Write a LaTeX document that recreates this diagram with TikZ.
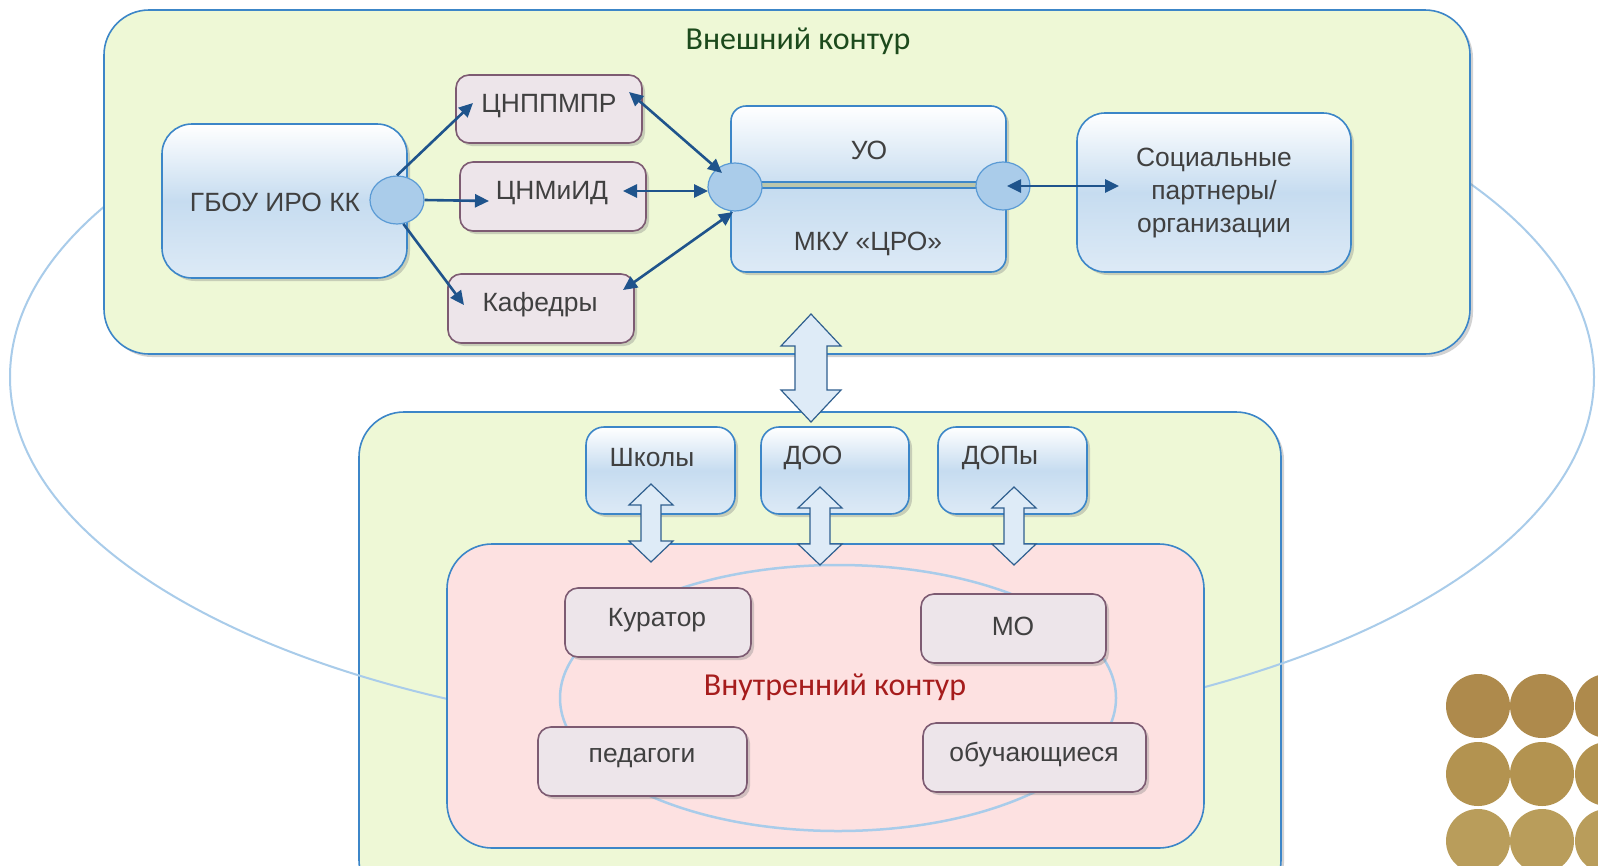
\documentclass[tikz,border=0pt]{standalone}
\usepackage{fontspec}
\setmainfont{Liberation Sans}
\newfontfamily\calib{Carlito}
\usetikzlibrary{arrows.meta,shadows,calc,shapes.geometric}
\definecolor{boxblue}{HTML}{3C86C8}
\definecolor{bluemid}{HTML}{C6DCF0}
\definecolor{bluebot}{HTML}{DDEAF6}
\definecolor{greenfill}{HTML}{EEF8D6}
\definecolor{pinkfill}{HTML}{FDE1E1}
\definecolor{grayfill}{HTML}{EDE5EA}
\definecolor{grayborder}{HTML}{7D5B72}
\definecolor{arrowblue}{HTML}{1F548C}
\definecolor{ellblue}{HTML}{A9CCEA}
\definecolor{ovalfill}{HTML}{AACCEA}
\definecolor{ovalborder}{HTML}{5B9BD5}
\definecolor{textgray}{HTML}{404040}
\definecolor{titlegreen}{HTML}{1C4A1C}
\definecolor{titlered}{HTML}{A61C1C}
\definecolor{bandfill}{HTML}{BAC6AC}
\definecolor{blockfill}{HTML}{DEEBF7}
\definecolor{blockborder}{HTML}{2F5F8F}
\definecolor{goldA}{HTML}{AE8A4C}
\definecolor{goldB}{HTML}{B39350}
\definecolor{goldC}{HTML}{B99D5B}
\newcommand{\myDblArrow}[6]{%
  \draw[blockstyle] (#1,#2) -- ({#1+#4},{#2+#5}) -- ({#1+#6},{#2+#5}) -- ({#1+#6},{#3-#5}) -- ({#1+#4},{#3-#5}) -- (#1,#3) -- ({#1-#4},{#3-#5}) -- ({#1-#6},{#3-#5}) -- ({#1-#6},{#2+#5}) -- ({#1-#4},{#2+#5}) -- cycle;}
\begin{document}
\begin{tikzpicture}[x=1pt,y=-1pt,
  shad/.style={drop shadow={opacity=0.35,shadow xshift=3pt,shadow yshift=-3pt}},
  contour/.style={draw=boxblue,line width=1.6pt,fill=#1,rounded corners=45pt},
  bluebox/.style={draw=boxblue,line width=1.6pt,rounded corners=#1,top color=white,bottom color=bluebot,middle color=bluemid,shad},
  bluebox/.default=16pt,
  graybox/.style={draw=grayborder,line width=1.6pt,fill=grayfill,rounded corners=13pt,shad},
  txt/.style={text=textgray,font=\fontsize{26.4}{33}\selectfont,inner sep=0pt,align=center},
  oval/.style={ellipse,draw=ovalborder,line width=1.2pt,fill=ovalfill,minimum width=54pt,minimum height=48pt,inner sep=0pt},
  conn/.style={draw=arrowblue,line width=2.6pt,-{Triangle[length=14pt,width=13pt]}},
  bconn/.style={draw=arrowblue,line width=2.6pt,{Triangle[length=14pt,width=13pt]}-{Triangle[length=14pt,width=13pt]}},
  blockstyle/.style={draw=blockborder,line width=1.2pt,fill=blockfill,line join=miter}]
\useasboundingbox (0,0) rectangle (1598,865);
\clip (0,0) rectangle (1598,865);
\fill[white] (0,0) rectangle (1598,865);
% lower green contour (below the large ellipse)
\node[contour=greenfill,shad,minimum width=922pt,minimum height=493pt] (innergreen) at (820,658.5) {};
% large ellipse
\draw[ellblue,line width=2pt] (802,377) ellipse [x radius=792, y radius=360];
% upper contour and pink contour (above the large ellipse)
\node[contour=greenfill,shad,minimum width=1366pt,minimum height=344pt] (outer) at (787,182) {};
\node[contour=pinkfill,minimum width=757pt,minimum height=304pt] (pink) at (825.5,696) {};
\draw[ellblue,line width=2.5pt] (838,698) ellipse [x radius=278, y radius=133];
% titles
\node[text=titlegreen,font=\calib\fontsize{32}{36}\selectfont,inner sep=0pt] (t1) at (798,41) {Внешний контур};
\node[text=titlered,font=\calib\fontsize{32}{36}\selectfont,inner sep=0pt] (t2) at (835,687) {Внутренний контур};
% blue boxes
\node[bluebox=30pt,minimum width=245pt,minimum height=154pt] (gbou) at (284.5,201) {};
\node[txt] (gbout) at (275,202) {ГБОУ ИРО КК};
\node[bluebox=15pt,minimum width=275pt,minimum height=166pt] (uo) at (868.5,189) {};
\node[txt] (uot) at (869,150) {УО};
\node[txt] (mkut) at (868,244) {МКУ «ЦРО»};
\node[bluebox=28pt,minimum width=274pt,minimum height=159pt] (soc) at (1214,192.5) {};
\node[txt] (soct) at (1214,193) {Социальные\\партнеры/\\организации};
\node[bluebox=18pt,minimum width=149pt,minimum height=87pt] (shk) at (660.5,470.5) {};
\node[txt] (shkt) at (652,458) {Школы};
\node[bluebox=18pt,minimum width=148pt,minimum height=87pt] (doo) at (835,470.5) {};
\node[txt] (doot) at (813,458) {ДОО};
\node[bluebox=18pt,minimum width=149pt,minimum height=87pt] (dop) at (1012.5,470.5) {};
\node[txt] (dopt) at (1000,458) {ДОПы};
% gray boxes
\node[graybox,minimum width=186pt,minimum height=68pt] (cnp) at (549,109) {};
\node[txt] at (549,106) {ЦНППМПР};
\node[graybox,minimum width=186pt,minimum height=69pt] (cnm) at (553,196.5) {};
\node[txt] at (552,193) {ЦНМиИД};
\node[graybox,minimum width=186pt,minimum height=69pt] (kaf) at (541,308.5) {};
\node[txt] at (540,305) {Кафедры};
\node[graybox,minimum width=186pt,minimum height=69pt] (kur) at (658,622.5) {};
\node[txt] at (657,620) {Куратор};
\node[graybox,minimum width=185pt,minimum height=69pt] (mo) at (1013.5,628.5) {};
\node[txt] at (1013,626) {МО};
\node[graybox,minimum width=209pt,minimum height=69pt] (ped) at (642.5,761.5) {};
\node[txt] at (642,758) {педагоги};
\node[graybox,minimum width=223pt,minimum height=69pt] (obu) at (1034.5,757.5) {};
\node[txt] at (1034,755) {обучающиеся};
% band between ovals
\draw[boxblue,line width=8pt] (735,185) -- (1003,185);
\draw[bandfill,line width=4.5pt] (735,185) -- (1003,185);
% ovals
\node[oval] (e1) at (397,200) {};
\node[oval] (e2) at (735,187) {};
\node[oval] (e3) at (1003,186) {};
% arrow end points
\coordinate (p1) at (473,103);
\coordinate (p2) at (489,201);
\coordinate (p3) at (464,305);
\coordinate (q1) at (629,92);
\coordinate (q1b) at (722,173);
\coordinate (q2) at (623,191);
\coordinate (q2b) at (708,191);
\coordinate (q3) at (623,290);
\coordinate (q3b) at (733,212);
\coordinate (r1) at (1007,186);
\coordinate (r2) at (1119,186);
\draw[conn] (e1.north) -- (p1);
\draw[conn] (e1.east) -- (p2);
\draw[conn] (e1.-75) -- (p3);
\draw[bconn] (q1) -- (q1b);
\draw[bconn] (q2) -- (q2b);
\draw[bconn] (q3) -- (q3b);
\draw[bconn] (r1) -- (r2);
% block arrows
\myDblArrow{811}{314}{422}{30}{32}{16}
\myDblArrow{651}{484}{562}{22}{21}{10}
\myDblArrow{820}{487}{565}{22}{21}{10}
\myDblArrow{1014}{487}{565}{22}{21}{10}
% gold dots
\foreach \yy/\cc in {706/goldA,774/goldB,841/goldC}{
  \foreach \xx in {1478,1542,1607}{
    \fill[\cc] (\xx,\yy) circle[radius=32];
  }
}
\end{tikzpicture}
\end{document}
